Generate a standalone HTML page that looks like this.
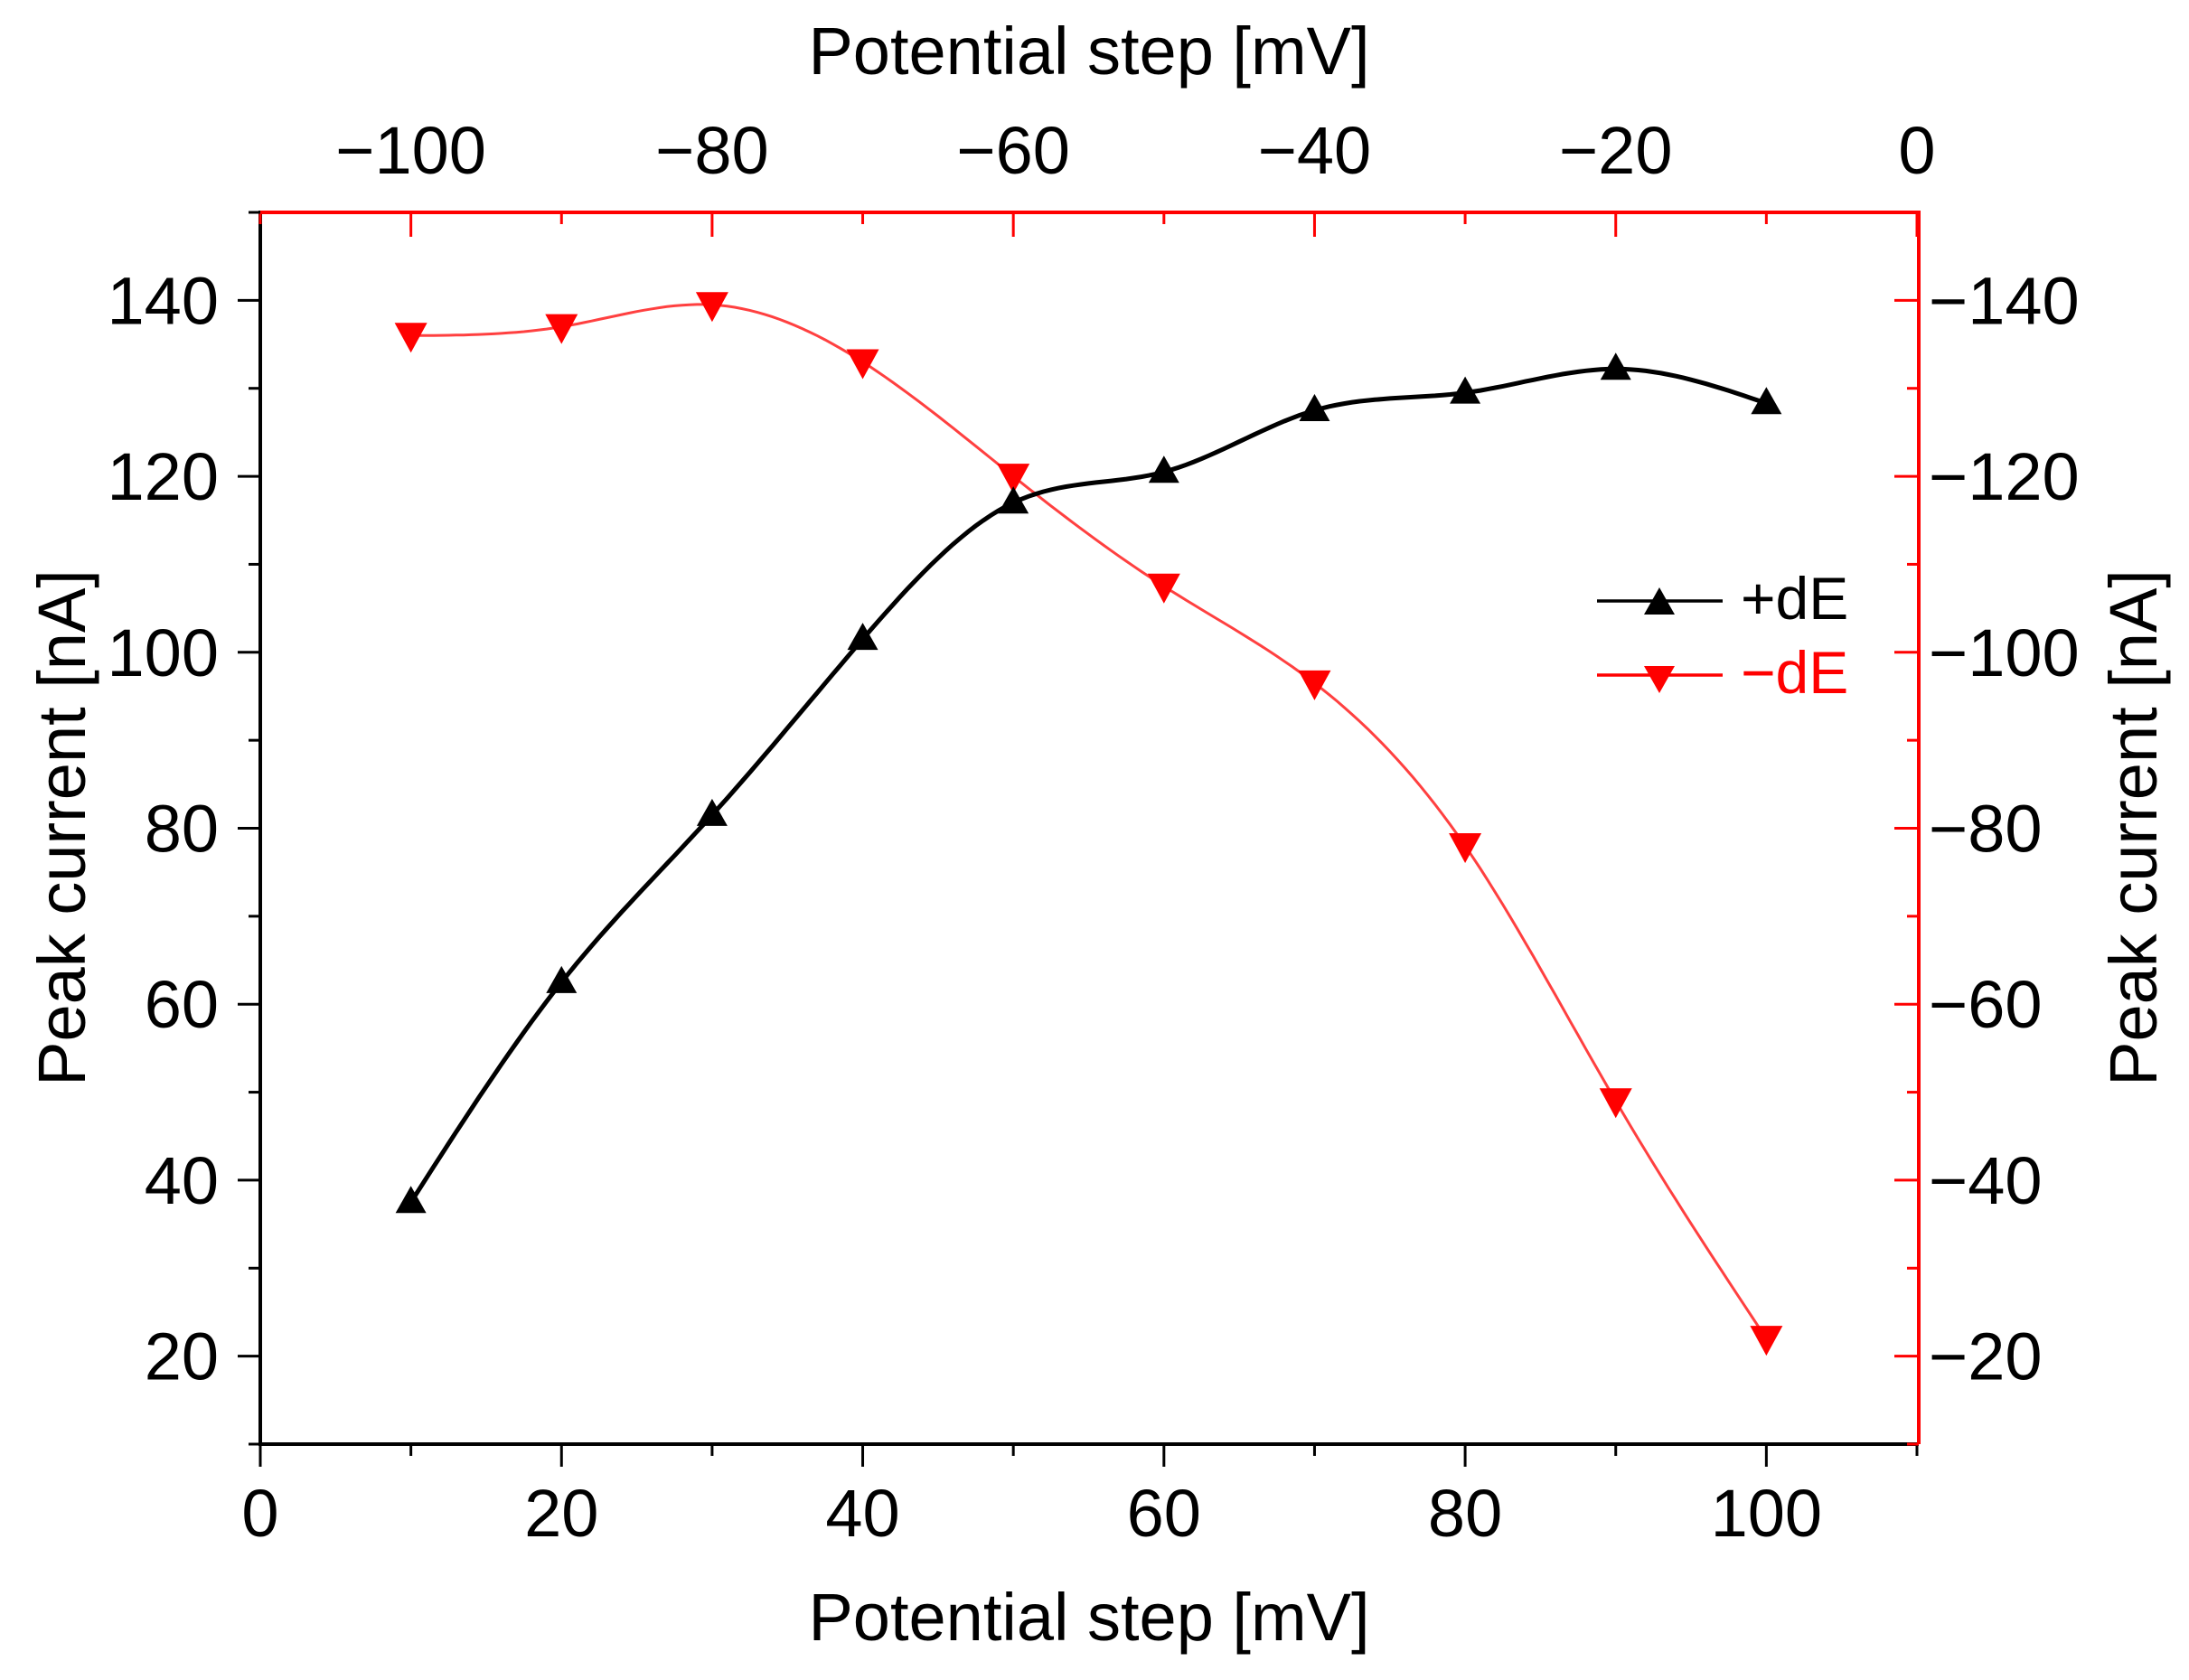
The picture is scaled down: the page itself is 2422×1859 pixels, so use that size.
<!DOCTYPE html>
<html><head><meta charset="utf-8"><style>
html,body{margin:0;padding:0;background:#fff}
svg{display:block}
text{font-family:"Liberation Sans",sans-serif}
</style></head><body>
<svg id="chart" width="2422" height="1859" viewBox="0 0 2422 1859" xmlns="http://www.w3.org/2000/svg">
<g id="axes"></g>
<g id="series"></g>
<g id="legend">
  <line x1="1767" y1="665" x2="1906" y2="665" stroke="#000" stroke-width="3.5"/>
  <polygon points="1836,650 1853,680 1819,680" fill="#000"/>
  <text x="1926" y="685" font-size="66" fill="#000">+dE</text>
  <line x1="1767" y1="747" x2="1906" y2="747" stroke="#ff0000" stroke-width="3.5"/>
  <polygon points="1819,737 1853,737 1836,767" fill="#ff0000"/>
  <text x="1926" y="767" font-size="66" fill="#ff0000">−dE</text>
</g>
</svg>
<script>
const xValues = [10,20,30,40,50,60,70,80,90,100];
const plusDE = [37.5,62.5,81.5,101.5,117,120.5,127.5,129.5,132.2,128.3];
const minusDE = [-136,-137,-139.5,-133,-120,-107.5,-96.5,-78,-49,-22];
const bottomTicks = [0,20,40,60,80,100];
const topTicks = [-100,-80,-60,-40,-20,0];
const leftTicks = [20,40,60,80,100,120,140];
const rightTicks = [-20,-40,-60,-80,-100,-120,-140];

const X0=288,X1=2121,Y0=1598,Y1=235;
const xs = v => X0 + (v-0)/(110-0)*(X1-X0);
const xsTop = v => xs(v+110);
const ys = v => Y0 - (v-10)/(150-10)*(Y0-Y1);
const ysR = v => ys(-v);
const NS='http://www.w3.org/2000/svg';
const axes=document.getElementById('axes'), series=document.getElementById('series');
function mk(tag, attrs, parent){const e=document.createElementNS(NS,tag);for(const k in attrs)e.setAttribute(k,attrs[k]);parent.appendChild(e);return e;}

let e;
e=mk('line',{x1:X0,y1:Y0,x2:X1+2,y2:Y0,stroke:'#000','stroke-width':4},axes);


e=mk('line',{x1:X0,y1:Y0+2,x2:X0,y2:Y1-2,stroke:'#000','stroke-width':4},axes);


e=mk('line',{x1:X0,y1:Y1,x2:X1+2,y2:Y1,stroke:'#ff0000','stroke-width':4},axes);


e=mk('line',{x1:X1+2,y1:Y1-2,x2:X1+2,y2:Y0,stroke:'#ff0000','stroke-width':4},axes);



for(let v=0;v<=110;v+=10){const major=v%20===0;const x=xs(v);
 e=mk('line',{x1:x,y1:Y0,x2:x,y2:Y0+(major?25:13),stroke:'#000','stroke-width':3},axes);
 
 }
bottomTicks.forEach(v=>{e=mk('text',{x:xs(v),y:1700,'font-size':74,'text-anchor':'middle'},axes);e.textContent=String(v);
 
 });
for(let v=-110;v<=0;v+=10){const major=v%20===0;const x=xsTop(v);
 e=mk('line',{x1:x,y1:Y1,x2:x,y2:Y1+(major?27:13),stroke:'#ff0000','stroke-width':3},axes);
 
 }
topTicks.forEach(v=>{e=mk('text',{x:xsTop(v),y:192,'font-size':74,'text-anchor':'middle'},axes);e.textContent=(v<0?'−':'')+Math.abs(v);
 
 });
for(let v=10;v<=150;v+=10){const major=v%20===0;const y=ys(v);
 e=mk('line',{x1:X0,y1:y,x2:X0-(major?25:13),y2:y,stroke:'#000','stroke-width':3},axes);
 
 }
leftTicks.forEach(v=>{e=mk('text',{x:242,y:ys(v)+26,'font-size':74,'text-anchor':'end'},axes);e.textContent=String(v);
 
 });
for(let v=-150;v<=-10;v+=10){const major=v%20===0;const y=ysR(v);
 e=mk('line',{x1:X1+2,y1:y,x2:X1+2-(major?27:13),y2:y,stroke:'#ff0000','stroke-width':3},axes);
 
 }
rightTicks.forEach(v=>{e=mk('text',{x:2134,y:ysR(v)+26,'font-size':74,'text-anchor':'start'},axes);e.textContent='−'+Math.abs(v);
 
 });
e=mk('text',{x:1205,y:1815,'font-size':74,'text-anchor':'middle'},axes);e.textContent='Potential step [mV]';


e=mk('text',{x:1205,y:82,'font-size':74,'text-anchor':'middle'},axes);e.textContent='Potential step [mV]';


e=mk('text',{x:0,y:0,'font-size':74,'text-anchor':'middle',transform:'translate(94,916) rotate(-90)'},axes);e.textContent='Peak current [nA]';


e=mk('text',{x:0,y:0,'font-size':74,'text-anchor':'middle',transform:'translate(2386,916) rotate(-90)'},axes);e.textContent='Peak current [nA]';



// natural cubic spline through points (in pixel space), sampled densely
function natural(pts){
 const n=pts.length, x=pts.map(p=>p[0]), y=pts.map(p=>p[1]);
 const h=[];for(let i=0;i<n-1;i++)h.push(x[i+1]-x[i]);
 const a=new Array(n).fill(0),b=new Array(n).fill(1),c=new Array(n).fill(0),r=new Array(n).fill(0);
 for(let i=1;i<n-1;i++){a[i]=h[i-1];b[i]=2*(h[i-1]+h[i]);c[i]=h[i];r[i]=6*((y[i+1]-y[i])/h[i]-(y[i]-y[i-1])/h[i-1]);}
 for(let i=1;i<n;i++){const m=a[i]/b[i-1];b[i]-=m*c[i-1];r[i]-=m*r[i-1];}
 const M=new Array(n).fill(0);M[n-1]=r[n-1]/b[n-1];
 for(let i=n-2;i>=0;i--)M[i]=(r[i]-c[i]*M[i+1])/b[i];
 M[0]=0;M[n-1]=0;
 let d='M'+x[0]+','+y[0];
 for(let i=0;i<n-1;i++){for(let k=1;k<=20;k++){const t=x[i]+h[i]*k/20;const A=(x[i+1]-t)/h[i],B=(t-x[i])/h[i];
  const v=A*y[i]+B*y[i+1]+((A*A*A-A)*M[i]+(B*B*B-B)*M[i+1])*h[i]*h[i]/6;d+=' L'+t.toFixed(1)+','+v.toFixed(1);}}
 return d;}
const ptsP=xValues.map((x,i)=>[xs(x),ys(plusDE[i])]);
const ptsM=xValues.map((x,i)=>[xs(x),ysR(minusDE[i])]);
e=mk('path',{d:natural(ptsM),fill:'none',stroke:'#ff4040','stroke-width':3},series);


e=mk('path',{d:natural(ptsP),fill:'none',stroke:'#000','stroke-width':5},series);


ptsM.forEach(p=>{e=mk('polygon',{points:[p[0]-18,p[1]-14,p[0]+18,p[1]-14,p[0],p[1]+19].join(','),fill:'#ff0000'},series);
 
 });
ptsP.forEach(p=>{e=mk('polygon',{points:[p[0],p[1]-18,p[0]+17,p[1]+12,p[0]-17,p[1]+12].join(','),fill:'#000'},series);
 
 });
</script>
</body></html>
